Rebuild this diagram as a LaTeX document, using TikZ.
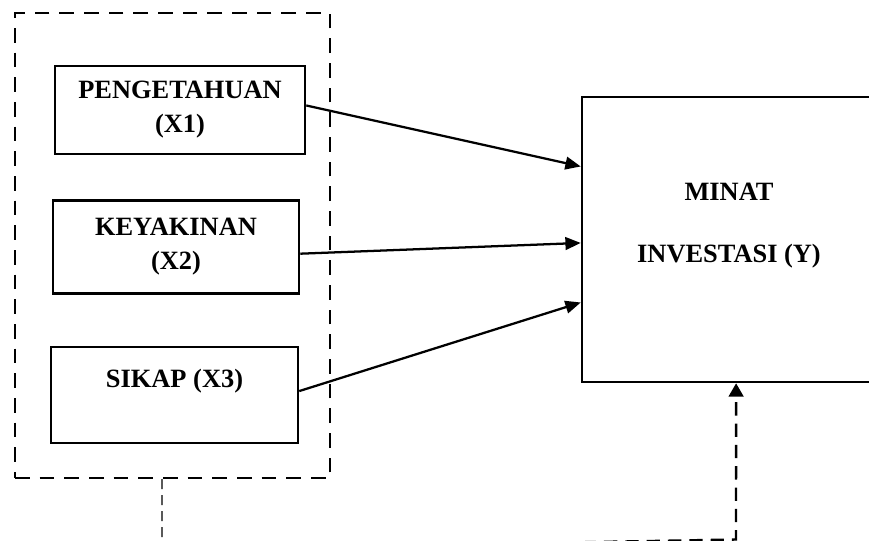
\documentclass[tikz,border=0pt]{standalone}
\usepackage{fontspec}
\setmainfont{Liberation Serif}
\usetikzlibrary{arrows.meta,calc}
\tikzset{
  varbox/.style={draw, line width=1.9pt, align=center, inner sep=0pt,
    font=\bfseries\fontsize{19.8}{25.5}\selectfont},
  grpbox/.style={draw, line width=1.7pt, dash pattern=on 11pt off 7.5pt, inner sep=0pt},
  link/.style={line width=1.7pt, -{Triangle[length=11.5pt,width=9.5pt]}},
  thindash/.style={line width=0.9pt, dash pattern=on 7.5pt off 4.5pt},
  thickdash/.style={line width=1.8pt, dash pattern=on 10pt off 6pt},
  lbl/.style={align=center, inner sep=0pt, font=\bfseries\fontsize{19.8}{25.5}\selectfont}
}
\begin{document}
\begin{tikzpicture}[x=0.75pt,y=-0.75pt]
\useasboundingbox (0,0) rectangle (869,540);
\clip (0,0) rectangle (869,540);
\fill[white] (0,0) rectangle (869,540);
% group
\node[grpbox, minimum width=315*0.75pt, minimum height=465*0.75pt] (grp) at (172.5,245.5) {};
% independent variables
\node[varbox, minimum width=250*0.75pt, minimum height=88*0.75pt] (x1) at (180,110) {PENGETAHUAN\\(X1)};
\node[varbox, minimum width=246*0.75pt, minimum height=93*0.75pt] (x2) at (176,247) {KEYAKINAN\\(X2)};
\node[varbox, minimum width=247*0.75pt, minimum height=96*0.75pt] (x3) at (174.5,395) {SIKAP (X3)\\\mbox{}};
% dependent variable
\node[draw, line width=1.9pt, minimum width=294*0.75pt, minimum height=285*0.75pt, inner sep=0pt] (y) at (729,239.5) {};
\node[lbl] (ytxt) at (729,225.5) {MINAT\\[21.5pt]INVESTASI (Y)};
% arrows
\draw[link] ($(x1.north east)!0.45!(x1.south east)$) -- ($(y.north west)!0.246!(y.south west)$);
\draw[link] ($(x2.north east)!0.57!(x2.south east)$) -- ($(y.north west)!0.512!(y.south west)$);
\draw[link] ($(x3.north east)!0.46!(x3.south east)$) -- ($(y.north west)!0.719!(y.south west)$);
% dashed connector
\coordinate (d0) at (162,548);
\coordinate (c0) at (540,543);
\coordinate (c1) at (736,539.5);
\draw[thindash] ($(grp.south west)!0.467!(grp.south east)$) -- (d0);
\draw[thickdash, -{Triangle[length=10pt,width=11pt]}] (c0) -- (c1) -- ($(y.south west)!0.524!(y.south east)$);
\end{tikzpicture}
\end{document}
